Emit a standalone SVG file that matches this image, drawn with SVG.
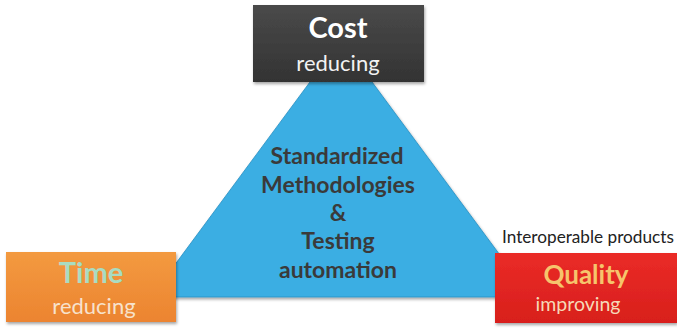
<svg xmlns="http://www.w3.org/2000/svg" width="677" height="329" viewBox="0 0 677 329">
  <defs>
    <linearGradient id="gCost" x1="0" y1="0" x2="0" y2="1">
      <stop offset="0" stop-color="#4a4a4a"/>
      <stop offset="1" stop-color="#333333"/>
    </linearGradient>
    <linearGradient id="gTime" x1="0" y1="0" x2="0" y2="1">
      <stop offset="0" stop-color="#f39a40"/>
      <stop offset="1" stop-color="#ec8430"/>
    </linearGradient>
    <linearGradient id="gQual" x1="0" y1="0" x2="0" y2="1">
      <stop offset="0" stop-color="#ea2b27"/>
      <stop offset="1" stop-color="#d81f1c"/>
    </linearGradient>
    <filter id="shadow" x="-10%" y="-10%" width="120%" height="130%">
      <feDropShadow dx="1" dy="2" stdDeviation="1.5" flood-color="#000" flood-opacity="0.35"/>
    </filter>
  </defs>
  <style>
    text { font-family: Lato, "Open Sans", "Liberation Sans", sans-serif; text-anchor: middle; }
    .title { font-weight: bold; font-size: 29px; }
    .sub { font-size: 22px; }
    .qtitle { font-weight: bold; font-size: 26px; }
    .qsub { font-size: 19.5px; }
    .center { font-weight: bold; font-size: 23px; fill: #3a3a3a; }
    .note { font-size: 17.2px; fill: #222; text-anchor: start; }
  </style>
  <rect width="677" height="329" fill="#ffffff"/>

  <g id="triangle">
    <polygon points="341,40 531,297 151,297" fill="#3aaee3" stroke="#2a8fc2" stroke-width="0.8" filter="url(#shadow)"/>
    <text class="center" x="337" y="164">Standardized</text>
    <text class="center" x="338" y="193">Methodologies</text>
    <text class="center" x="338" y="221">&amp;</text>
    <text class="center" x="338" y="249">Testing</text>
    <text class="center" x="338" y="278">automation</text>
  </g>

  <g id="cost">
    <rect x="253" y="5" width="171" height="77" fill="url(#gCost)" filter="url(#shadow)"/>
    <text class="title" x="338" y="38" fill="#ffffff">Cost</text>
    <text class="sub" x="338" y="71" fill="#f2f2f2">reducing</text>
  </g>

  <g id="time">
    <rect x="6" y="252" width="170" height="70" fill="url(#gTime)" filter="url(#shadow)"/>
    <text class="title" x="91" y="283" fill="#a9dcc2">Time</text>
    <text class="sub" x="94" y="314" fill="#f7e2cc">reducing</text>
  </g>

  <g id="quality">
    <rect x="495" y="253" width="182" height="70" fill="url(#gQual)" filter="url(#shadow)"/>
    <text class="qtitle" x="586" y="284" fill="#f6c46c">Quality</text>
    <text class="qsub" x="578" y="311" fill="#f6d9b8">improving</text>
  </g>

  <g id="note">
    <text class="note" x="502" y="243">Interoperable products</text>
  </g>
</svg>
